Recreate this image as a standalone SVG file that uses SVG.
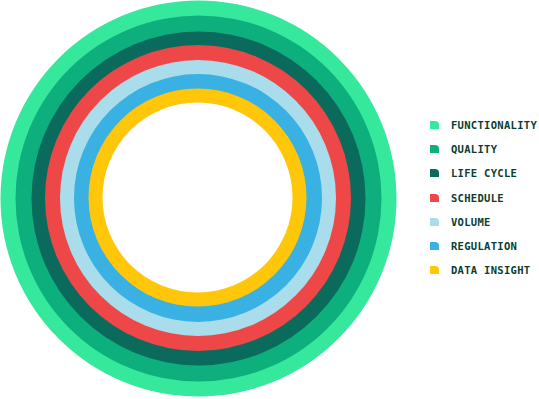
<svg xmlns="http://www.w3.org/2000/svg" width="539" height="399" viewBox="0 0 539 399">
<style>
.lbl{font-family:"DejaVu Sans Mono","Liberation Mono",monospace;font-weight:bold;font-size:10.5px;fill:#0b3d30;letter-spacing:0.3px}
</style>
<defs>
<path id="ic" d="M0,0 h5 a4,4 0 0 1 4,4 v4 h-9 z"/>
</defs>
<rect width="539" height="399" fill="#ffffff"/>
<g id="rings">
<circle id="functionality" cx="198.5" cy="198.5" r="198" fill="#36E89C"/>
<circle id="quality" cx="198.5" cy="198.5" r="183" fill="#0DB07C"/>
<circle id="life-cycle" cx="198.5" cy="198.5" r="167" fill="#0A6A5C"/>
<circle id="schedule" cx="198" cy="198" r="153" fill="#EE4747"/>
<circle id="volume" cx="198" cy="198" r="138" fill="#A9DDEB"/>
<circle id="regulation" cx="198" cy="198" r="124" fill="#3AB1E3"/>
<circle id="data-insight" cx="197.5" cy="197.5" r="109" fill="#FFC60A"/>
<circle id="center" cx="197.5" cy="197.5" r="95" fill="#ffffff"/>
</g>
<g id="legend">
<g id="lg-functionality"><use href="#ic" x="430" y="121" fill="#36E89C"/><text class="lbl" x="451" y="129">FUNCTIONALITY</text></g>
<g id="lg-quality"><use href="#ic" x="430" y="145" fill="#0DB07C"/><text class="lbl" x="451" y="153">QUALITY</text></g>
<g id="lg-life-cycle"><use href="#ic" x="430" y="169" fill="#0A6A5C"/><text class="lbl" x="451" y="177">LIFE CYCLE</text></g>
<g id="lg-schedule"><use href="#ic" x="430" y="194" fill="#EE4747"/><text class="lbl" x="451" y="202">SCHEDULE</text></g>
<g id="lg-volume"><use href="#ic" x="430" y="218" fill="#A9DDEB"/><text class="lbl" x="451" y="226">VOLUME</text></g>
<g id="lg-regulation"><use href="#ic" x="430" y="242" fill="#3AB1E3"/><text class="lbl" x="451" y="250">REGULATION</text></g>
<g id="lg-data-insight"><use href="#ic" x="430" y="266" fill="#FFC60A"/><text class="lbl" x="451" y="274">DATA INSIGHT</text></g>
</g>
</svg>
